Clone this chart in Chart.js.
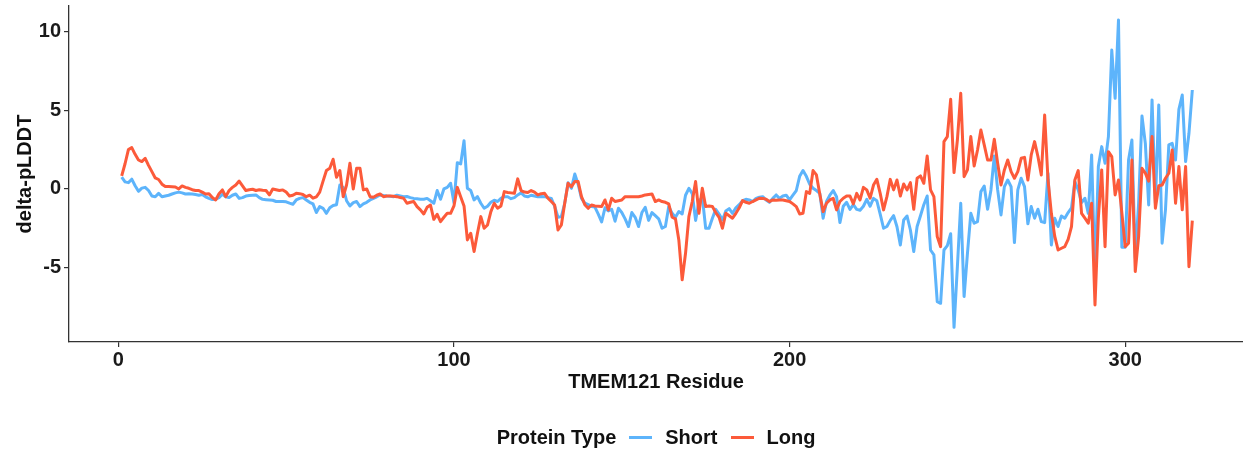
<!DOCTYPE html>
<html>
<head>
<meta charset="utf-8">
<script src="https://cdn.jsdelivr.net/npm/chart.js@4/dist/chart.umd.min.js"></script>
<style>
  html, body { margin: 0; padding: 0; background: #ffffff; }
  #wrap { position: relative; width: 1243px; height: 450px; overflow: hidden; }
  #legend {
    position: absolute; left: 69px; width: 1174px; top: 424px; height: 26px;
    display: flex; justify-content: center; align-items: center;
    font: bold 20px "Liberation Sans", Arial, sans-serif; color: #111;
  }
  #legend .ttl { margin-right: 13px; }
  #legend .sw { display: inline-block; width: 23px; height: 3px; margin-right: 13px; }
  #legend .lb { margin-right: 13px; }
  #legend .lb:last-child { margin-right: 0; }
</style>
</head>
<body>
<div id="wrap">
  <canvas id="c" width="1243" height="450"></canvas>
  <div id="legend"></div>
</div>
<script>
// ---- data ----
const seriesNames = ["Short", "Long"];
const seriesColors = ["#5DB4FB", "#FC5A3A"];
const legendTitle = "Protein Type";
const xTitle = "TMEM121 Residue";
const yTitle = "delta-pLDDT";
const xTicks = [0, 100, 200, 300];
const yTicks = [-5, 0, 5, 10];

const shortVals = [
  0.75, 0.45, 0.4, 0.62, 0.2, -0.15, 0.05, 0.1, -0.1, -0.45,
  -0.5, -0.28, -0.5, -0.45, -0.4, -0.32, -0.25, -0.2, -0.25, -0.32,
  -0.3, -0.32, -0.35, -0.4, -0.35, -0.5, -0.6, -0.67, -0.65, -0.55,
  -0.34, -0.5, -0.55, -0.4, -0.32, -0.6, -0.55, -0.45, -0.42, -0.4,
  -0.38, -0.55, -0.66, -0.68, -0.7, -0.72, -0.8, -0.8, -0.8, -0.82,
  -0.9, -0.97, -0.7, -0.6, -0.55, -0.7, -0.85, -0.95, -1.5, -1.12,
  -1.23, -1.55, -1.2, -1.05, -1.0, 0.25, 0.1, -0.75, -1.08, -0.87,
  -0.8, -1.12, -0.95, -0.85, -0.7, -0.6, -0.5, -0.38, -0.42, -0.45,
  -0.47, -0.49, -0.4, -0.45, -0.5, -0.48, -0.55, -0.6, -0.62, -0.66,
  -0.65, -0.6, -0.75, -0.91, -0.1, -0.66, 0.0, 0.1, 0.36, -0.87,
  1.67, 1.59, 3.07, 0.04, -0.1, -0.7, -0.49, -0.91, -1.23, -1.1,
  -0.85, -0.72, -0.8, -0.6, -0.49, -0.5, -0.62, -0.55, -0.38, -0.25,
  -0.45, -0.5, -0.4, -0.45, -0.5, -0.48, -0.49, -0.55, -0.6, -1.1,
  -1.8, -1.76, -0.91, 0.4, 0.04, 0.95, 0.3, -0.6, -0.9, -1.0,
  -1.12, -1.15, -1.6, -2.1, -1.2, -1.4, -1.3, -2.05, -1.23, -1.5,
  -1.9, -2.39, -1.5, -1.8, -2.39, -1.5, -1.17, -2.0, -1.5, -1.7,
  -1.9, -2.5, -2.39, -1.12, -1.55, -1.8, -1.44, -1.59, -0.4, 0.04,
  -0.3, -2.0, -0.8, -0.5, -2.5, -2.5, -1.86, -1.3, -1.6, -1.97,
  -1.4, -1.25, -1.55, -1.2, -1.0, -0.75, -0.66, -0.7, -0.8, -0.6,
  -0.53, -0.49, -0.7, -0.85, -0.6, -0.38, -0.6, -0.45, -0.4, -0.7,
  -0.4, -0.1, 0.8, 1.17, 0.8, 0.3, 0.05, -0.1, -0.28, -1.86,
  -0.8, -0.4, -0.1, -0.5, -2.14, -1.1, -0.85, -1.3, -1.0, -1.3,
  -1.35, -1.1, -0.66, -1.1, -0.6, -0.75, -1.6, -2.5, -2.39, -2.0,
  -1.7, -2.4, -3.56, -1.97, -1.72, -2.61, -3.98, -2.39, -1.7, -1.0,
  -0.45, -3.88, -4.19, -7.16, -7.27, -3.88, -3.6, -2.85, -8.8, -4.94,
  -0.91, -6.84, -4.09, -1.55, -2.18, -2.08, -0.17, 0.19, -1.29, -0.06,
  2.1, -0.06, -1.65, 0.15, 0.57, 0.15, -3.41, -0.06, 0.68, 0.15,
  -2.22, -1.12, -1.86, -1.29, -2.08, -2.14, 1.0, -3.56, -1.86, -2.39,
  -1.72, -1.86, -1.5, -1.2, 0.47, -0.06, -0.87, -0.59, -1.55, 2.16,
  -5.57, 1.42, 2.69, 1.63, 3.33, 8.83, 5.76, 10.74, -3.7, -3.7,
  1.84, 3.11, -4.4, -0.91, 4.64, 2.9, -1.02, 5.66, -0.91, 5.34,
  -3.45, -1.33, 2.8, 2.9, 1.84, 5.06, 5.97, 1.74, 3.54, 6.29
];

const longVals = [
  0.83, 1.6, 2.5, 2.63, 2.2, 1.84, 1.74, 1.95, 1.5, 1.1,
  0.7, 0.6, 0.3, 0.15, 0.15, 0.14, 0.12, 0.0, 0.19, 0.1,
  0.04, -0.05, -0.1, -0.1, -0.2, -0.32, -0.3, -0.55, -0.7, -0.3,
  -0.06, -0.49, -0.1, 0.1, 0.25, 0.5, 0.2, -0.1, -0.05, -0.02,
  -0.1, -0.05, -0.08, -0.1, -0.38, 0.0, -0.05, -0.1, -0.06, -0.2,
  -0.45, -0.4, -0.28, -0.3, -0.35, -0.49, -0.4, -0.59, -0.5, -0.2,
  0.5, 1.17, 1.31, 1.89, 0.74, 1.17, -0.49, 0.25, 1.63, 0.0,
  1.31, 1.31, -0.06, 0.0, -0.49, -0.53, -0.4, -0.32, -0.49, -0.45,
  -0.45, -0.47, -0.49, -0.55, -0.59, -0.91, -0.85, -0.8, -1.12, -1.33,
  -1.59, -1.17, -1.02, -1.93, -1.61, -2.08, -1.8, -1.55, -1.55, -1.08,
  0.1, -0.49, -1.08, -3.24, -2.82, -3.98, -2.82, -1.76, -2.5, -2.29,
  -1.44, -0.91, -1.23, -1.08, -0.17, -0.23, -0.25, -0.28, 0.64, -0.1,
  -0.2, -0.23, -0.1, -0.2, -0.38, -0.3, -0.28, -0.59, -0.8, -1.02,
  -2.61, -2.29, -0.91, 0.36, 0.15, 0.47, 0.47, -0.49, -1.0, -1.23,
  -1.02, -1.08, -1.1, -1.12, -0.7, -1.33, -0.59, -0.8, -0.75, -0.7,
  -0.49, -0.5, -0.5, -0.49, -0.5, -0.45, -0.38, -0.35, -0.32, -0.8,
  -0.7, -0.8, -0.85, -0.95, -1.8, -1.9, -3.24, -5.78, -4.09, -1.76,
  -0.8, 0.47, -1.55, 0.04, -1.12, -1.08, -1.12, -1.5, -1.8, -2.5,
  -1.55, -1.7, -1.86, -1.55, -1.2, -0.74, -0.85, -0.91, -0.8, -0.7,
  -0.59, -0.6, -0.65, -0.8, -0.7, -0.72, -0.7, -0.7, -0.75, -0.8,
  -0.95, -1.12, -1.59, -1.55, -0.17, -0.28, 1.17, 0.89, -0.32, -1.44,
  -0.91, -0.7, -0.59, -1.33, -0.8, -0.59, -0.45, -0.45, -0.95, -0.28,
  -0.7, 0.1, -0.06, -0.59, 0.25, 0.61, -0.28, -1.33, -0.49, 0.61,
  -0.06, 0.57, -0.45, 0.32, -0.06, 0.4, -1.29, 0.68, 0.83, 0.36,
  2.1, -0.06, -0.49, -3.03, -3.67, 3.01, 3.33, 5.7, 1.04, 3.11,
  6.08, 0.78, 1.21, 3.33, 1.46, 2.48, 3.75, 2.8, 1.84, 1.84,
  3.16, 1.63, 0.25, 1.21, 1.84, 1.1, 0.68, 1.1, 1.95, 2.01,
  0.57, 2.16, 3.01, 2.06, 0.89, 4.7, 0.57, -1.55, -3.0, -3.88,
  -3.77, -3.67, -3.2, -2.39, 0.57, 1.17, -1.55, -1.86, -2.18, -0.91,
  -7.37, -1.86, 1.21, -3.67, 2.37, 2.06, -0.38, 0.57, -1.5, -3.67,
  -3.45, 1.84, -5.25, -3.03, 1.31, 1.0, 0.5, 3.33, -1.23, 0.2,
  0.25, 0.68, 1.0, 2.48, -0.91, 1.42, -1.33, 1.42, -4.94, -2.01
];

// residue numbers (categories on the x axis)
const residues = shortVals.map((_, i) => i + 1);

// ---- chart ----
const FONT = '"Liberation Sans", Arial, sans-serif';
const toPts = vals => vals.map((v, i) => ({ x: residues[i], y: v }));

new Chart(document.getElementById('c'), {
  type: 'line',
  data: {
    datasets: [
      { label: seriesNames[0], data: toPts(shortVals), borderColor: seriesColors[0], order: 1 },
      { label: seriesNames[1], data: toPts(longVals), borderColor: seriesColors[1], order: 0 }
    ]
  },
  options: {
    responsive: false,
    animation: false,
    layout: { autoPadding: false, padding: { left: 0, right: 0, top: 6, bottom: 55 } },
    plugins: { legend: { display: false }, tooltip: { enabled: false } },
    elements: {
      point: { radius: 0 },
      line: { borderWidth: 3, tension: 0, borderJoinStyle: 'round', fill: false }
    },
    scales: {
      x: {
        type: 'linear', min: -14.7, max: 335.1,
        afterBuildTicks: s => { s.ticks = xTicks.map(v => ({ value: v })); },
        afterFit: s => { s.height = 53; s.paddingLeft = 0; s.paddingRight = 0; },
        grid: { display: true, drawOnChartArea: false, drawTicks: true, tickLength: 5, color: '#333', lineWidth: 1.2 },
        border: { display: true, color: '#333', width: 1.3 },
        ticks: { color: '#1a1a1a', font: { family: FONT, size: 20, weight: 'bold' }, padding: 1, maxRotation: 0 },
        title: { display: true, text: xTitle, color: '#111', font: { family: FONT, size: 20, weight: 'bold' }, padding: { top: 0, bottom: 1 } }
      },
      y: {
        type: 'linear', min: -9.73, max: 11.63,
        afterBuildTicks: s => { s.ticks = yTicks.map(v => ({ value: v })); },
        afterFit: s => { s.width = 69; s.paddingTop = 0; s.paddingBottom = 0; },
        grid: { display: true, drawOnChartArea: false, drawTicks: true, tickLength: 5, color: '#333', lineWidth: 1.2 },
        border: { display: true, color: '#333', width: 1.3 },
        ticks: { color: '#1a1a1a', font: { family: FONT, size: 20, weight: 'bold' }, padding: 3 },
        title: { display: true, text: yTitle, color: '#111', font: { family: FONT, size: 20, weight: 'bold' }, padding: { top: 13, bottom: 0 } }
      }
    }
  }
});

// ---- legend (HTML) ----
const lg = document.getElementById('legend');
const t = document.createElement('span'); t.className = 'ttl'; t.textContent = legendTitle; lg.appendChild(t);
seriesNames.forEach((n, i) => {
  const sw = document.createElement('span'); sw.className = 'sw'; sw.style.background = seriesColors[i]; lg.appendChild(sw);
  const lb = document.createElement('span'); lb.className = 'lb'; lb.textContent = n; lg.appendChild(lb);
});
</script>
</body>
</html>
